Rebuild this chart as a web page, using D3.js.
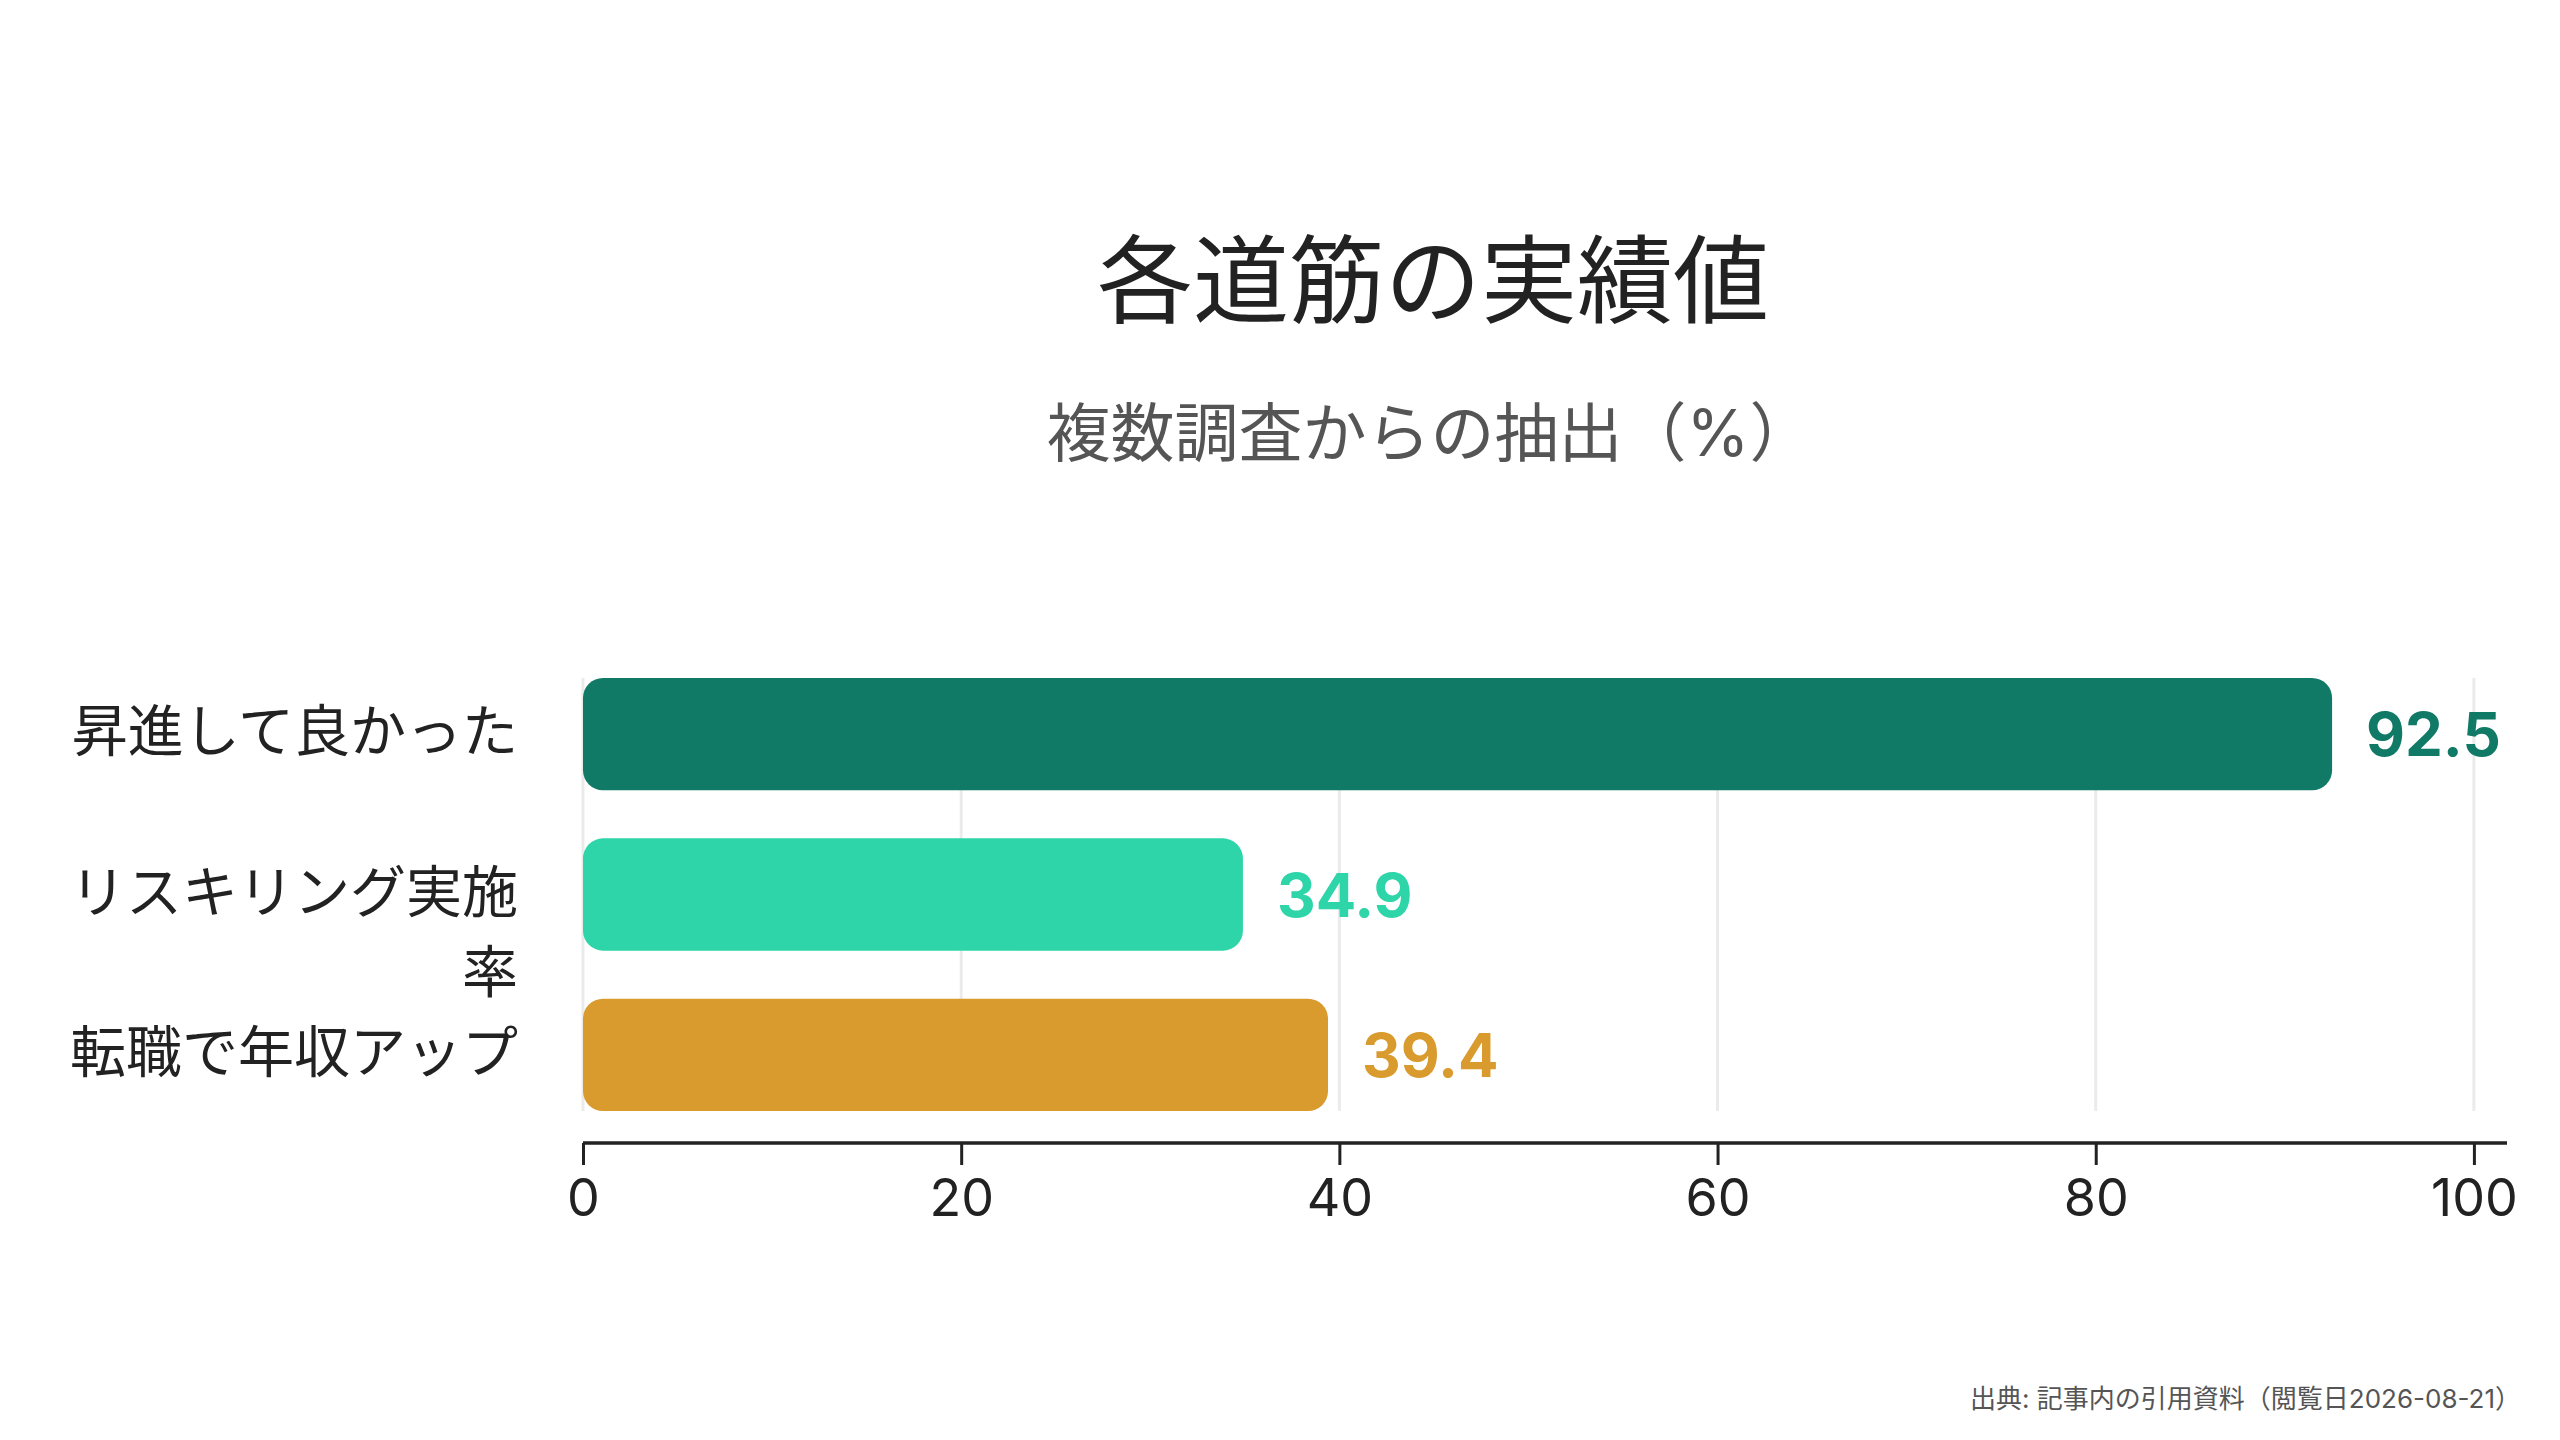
<!DOCTYPE html>
<html>
<head>
<meta charset="utf-8">
<script src="https://cdn.jsdelivr.net/npm/d3@7/dist/d3.min.js"></script>
<style>
  html, body { margin: 0; padding: 0; background: #ffffff; }
  svg { display: block; }
  text { font-family: Inter, "Noto Sans CJK JP", "Noto Sans", sans-serif; }
</style>
</head>
<body>
<svg id="chart" width="2560" height="1440"></svg>
<script>
const titleText = "各道筋の実績値";
const subtitleText = "複数調査からの抽出（%）";
const sourceText = "出典: 記事内の引用資料（閲覧日2026-08-21）";
const categories = ["昇進して良かった", "リスキリング実施率", "転職で年収アップ"];
const values = [92.5, 34.9, 39.4];
const barColors = ["#117A66", "#2ED5A8", "#D99A2E"];
const tickValues = [0, 20, 40, 60, 80, 100];

const W = 2560, H = 1440;
const svg = d3.select("#chart");
svg.append("rect").attr("width", W).attr("height", H).attr("fill", "#fff");

const plot = { left: 583, right: 2507, top: 678, bottom: 1111, axisY: 1143 };

const x = d3.scaleLinear()
  .domain([0, d3.max(values) * 1.1])
  .range([plot.left, plot.right]);

const y = d3.scaleBand()
  .domain(categories)
  .range([plot.top, plot.bottom])
  .paddingInner(0.3)
  .paddingOuter(0);

// title & subtitle
svg.append("text")
  .attr("x", 1433).attr("y", 280)
  .attr("text-anchor", "middle").attr("dominant-baseline", "central")
  .attr("font-size", 96).attr("fill", "#222")
  .text(titleText);
svg.append("text")
  .attr("x", 1430).attr("y", 432)
  .attr("text-anchor", "middle").attr("dominant-baseline", "central")
  .attr("font-size", 64).attr("fill", "#555")
  .text(subtitleText);

// gridlines
svg.append("g").selectAll("line")
  .data(tickValues)
  .join("line")
  .attr("x1", d => x(d)).attr("x2", d => x(d))
  .attr("y1", plot.top).attr("y2", plot.bottom)
  .attr("stroke", "#ebebeb").attr("stroke-width", 3);

// bars
svg.append("g").selectAll("rect")
  .data(categories)
  .join("rect")
  .attr("x", x(0))
  .attr("y", d => y(d))
  .attr("width", (d, i) => x(values[i]) - x(0))
  .attr("height", y.bandwidth())
  .attr("rx", 20).attr("ry", 20)
  .attr("fill", (d, i) => barColors[i]);

// value labels
svg.append("g").selectAll("text")
  .data(categories)
  .join("text")
  .attr("x", (d, i) => x(values[i]) + 34)
  .attr("y", d => y(d) + y.bandwidth() / 2)
  .attr("dominant-baseline", "central")
  .attr("font-size", 60).attr("font-weight", 700)
  .attr("fill", (d, i) => barColors[i])
  .text((d, i) => values[i].toFixed(1));

// category labels with wrapping
const labelX = 518, maxLabelW = 480, lineH = 80;
const labelG = svg.append("g");
categories.forEach(cat => {
  const t = labelG.append("text")
    .attr("x", labelX)
    .attr("y", y(cat) + y.bandwidth() / 2 - 3)
    .attr("text-anchor", "end")
    .attr("dominant-baseline", "central")
    .attr("font-size", 56).attr("fill", "#222");
  const chars = Array.from(cat);
  let lines = [], cur = "";
  const probe = t.append("tspan");
  chars.forEach(ch => {
    probe.text(cur + ch);
    if (probe.node().getComputedTextLength() > maxLabelW && cur.length) {
      lines.push(cur); cur = ch;
    } else cur += ch;
  });
  lines.push(cur);
  probe.remove();
  lines.forEach((ln, i) => {
    t.append("tspan").attr("x", labelX).attr("dy", i === 0 ? 0 : lineH).text(ln);
  });
});

// x axis
const axis = d3.axisBottom(x).tickValues(tickValues).tickSize(22).tickPadding(14).tickFormat(d3.format("d"));
const ax = svg.append("g").attr("transform", `translate(0,${plot.axisY})`).call(axis);
ax.select(".domain").attr("stroke", "#222").attr("stroke-width", 3.5).attr("d", `M${plot.left},0H${plot.right}`);
ax.selectAll(".tick line").attr("stroke", "#222").attr("stroke-width", 3);
ax.selectAll(".tick text")
  .attr("font-size", 52).attr("fill", "#222")
  .attr("font-family", "Inter, 'Noto Sans CJK JP', sans-serif");

// source
svg.append("text")
  .attr("x", 2521).attr("y", 1398)
  .attr("text-anchor", "end").attr("dominant-baseline", "central")
  .attr("font-size", 26).attr("fill", "#555")
  .text(sourceText);
</script>
</body>
</html>
